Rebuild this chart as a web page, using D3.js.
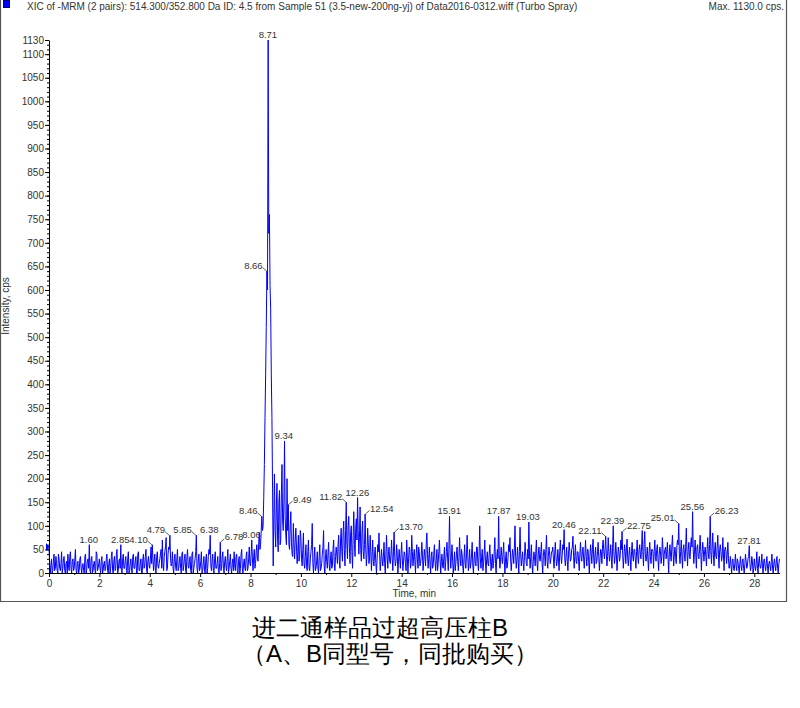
<!DOCTYPE html>
<html>
<head>
<meta charset="utf-8">
<script src="https://cdn.jsdelivr.net/npm/d3@7"></script>
<style>
  body { margin: 0; background: #fff; }
  svg text { font-family: "Liberation Sans Narrow", "Arial Narrow", "Liberation Sans", Arial, sans-serif; }
</style>
</head>
<body>
<div id="chart"></div>
<script>
// XIC chromatogram, one sample every 0.025 min (one row per minute)
var sampleStep = 0.025

var intensity0to5 = [
  55, 20, 0, 15, 30, 0, 5, 25, 40, 5, 10, 35, 20, 5, 0, 40, 30, 10, 5, 20, 45, 0, 10, 30, 35, 5, 0, 20, 25, 0, 40, 15, 5, 35, 45, 10, 0, 25, 30, 5,
  10, 30, 50, 5, 0, 20, 25, 0, 5, 30, 35, 10, 0, 15, 20, 5, 0, 35, 40, 0, 10, 25, 30, 10, 60, 5, 0, 30, 35, 0, 5, 20, 25, 5, 0, 45, 40, 5, 10, 20,
  30, 10, 0, 25, 35, 0, 5, 20, 25, 5, 10, 30, 40, 5, 0, 20, 30, 0, 10, 35, 45, 5, 0, 25, 35, 5, 10, 40, 50, 0, 5, 25, 30, 10, 60, 5, 0, 30, 40, 10,
  10, 25, 35, 5, 0, 30, 45, 0, 5, 20, 30, 5, 0, 35, 40, 10, 10, 25, 35, 0, 0, 40, 45, 5, 5, 20, 30, 0, 0, 30, 40, 10, 15, 35, 50, 5, 0, 25, 35, 15,
  10, 30, 55, 20, 60, 30, 5, 25, 40, 5, 0, 35, 45, 15, 10, 20, 30, 40, 50, 10, 70, 20, 5, 35, 45, 55, 75, 5, 10, 40, 55, 50, 80, 30, 15, 20, 45, 10, 0, 30
]
var intensity5to10 = [
  40, 15, 5, 30, 50, 5, 10, 25, 35, 10, 0, 40, 45, 5, 15, 30, 40, 5, 0, 35, 50, 15, 10, 25, 35, 5, 0, 40, 45, 0, 10, 20, 30, 45, 80, 10, 0, 25, 40, 5,
  10, 25, 45, 0, 5, 20, 35, 5, 0, 30, 40, 0, 10, 35, 50, 40, 80, 15, 5, 25, 40, 5, 0, 30, 45, 10, 10, 20, 35, 5, 0, 20, 65, 5, 10, 35, 45, 10, 0, 25,
  35, 15, 5, 30, 50, 0, 10, 25, 40, 10, 0, 20, 30, 5, 45, 15, 5, 35, 40, 5, 0, 25, 35, 0, 10, 40, 50, 10, 0, 20, 30, 10, 5, 35, 45, 5, 10, 30, 55, 20,
  15, 40, 70, 30, 5, 35, 50, 10, 20, 45, 60, 30, 25, 65, 85, 50, 60, 90, 120, 90, 100, 160, 230, 330, 420, 520, 640, 600, 1130, 720, 760, 610, 560, 420, 330, 180, 15, 120, 210, 90,
  55, 140, 190, 70, 45, 150, 175, 60, 70, 170, 230, 110, 90, 150, 280, 120, 80, 60, 200, 90, 145, 60, 50, 100, 130, 65, 40, 35, 105, 60, 30, 70, 95, 55, 20, 40, 80, 25, 35, 90
]
var intensity10to15 = [
  75, 30, 15, 50, 85, 20, 10, 35, 60, 15, 5, 45, 70, 10, 5, 30, 45, 60, 105, 20, 0, 30, 55, 5, 10, 25, 45, 10, 0, 35, 60, 5, 10, 20, 40, 55, 90, 15, 0, 30,
  50, 25, 10, 40, 65, 15, 5, 30, 45, 10, 15, 50, 70, 20, 5, 35, 55, 40, 20, 60, 80, 25, 10, 70, 95, 45, 25, 85, 110, 50, 15, 90, 150, 60, 30, 100, 120, 55, 20, 85,
  100, 45, 10, 80, 130, 60, 35, 95, 115, 70, 160, 90, 40, 75, 140, 50, 25, 85, 110, 45, 30, 60, 125, 50, 15, 40, 95, 65, 20, 30, 80, 45, 5, 35, 70, 25, 15, 40, 55, 20,
  0, 30, 60, 45, 85, 40, 5, 25, 50, 30, 15, 35, 65, 20, 0, 40, 80, 35, 10, 45, 55, 25, 20, 40, 70, 30, 5, 45, 87, 35, 15, 25, 60, 40, 0, 25, 50, 30, 10, 40,
  65, 30, 5, 25, 45, 40, 20, 5, 70, 35, 0, 30, 55, 50, 10, 20, 80, 45, 15, 35, 50, 25, 0, 40, 60, 30, 10, 55, 45, 15, 20, 35, 65, 40, 5, 25, 50, 35, 15, 60
]
var intensity15to20 = [
  85, 40, 10, 30, 55, 20, 0, 35, 45, 10, 15, 40, 60, 25, 5, 30, 50, 5, 20, 45, 70, 30, 0, 25, 40, 15, 10, 35, 55, 5, 25, 45, 65, 30, 5, 50, 120, 40, 10, 35,
  60, 25, 0, 20, 45, 5, 20, 40, 55, 25, 5, 35, 75, 30, 15, 50, 40, 15, 0, 30, 60, 20, 10, 40, 80, 35, 5, 25, 50, 10, 20, 40, 65, 15, 0, 30, 45, 20, 15, 55,
  55, 20, 5, 45, 100, 30, 10, 35, 50, 5, 20, 40, 70, 25, 0, 30, 45, 20, 15, 40, 60, 30, 5, 25, 40, 10, 20, 45, 75, 20, 0, 35, 50, 30, 120, 40, 10, 25, 55, 35,
  20, 40, 65, 25, 0, 30, 45, 10, 15, 35, 60, 45, 75, 30, 5, 25, 50, 40, 20, 55, 100, 35, 10, 30, 55, 25, 0, 45, 97, 40, 15, 30, 45, 20, 5, 35, 65, 40, 20, 15,
  50, 30, 108, 40, 10, 35, 60, 20, 0, 25, 45, 35, 15, 45, 70, 20, 5, 40, 55, 30, 25, 45, 65, 20, 0, 35, 50, 40, 15, 50, 80, 25, 10, 35, 55, 40, 20, 30, 45, 45
]
var intensity20to25 = [
  55, 30, 10, 40, 65, 35, 15, 25, 50, 30, 5, 45, 70, 35, 20, 40, 60, 50, 92, 30, 15, 35, 55, 25, 5, 40, 65, 45, 25, 30, 50, 55, 78, 35, 10, 40, 60, 25, 20, 45,
  45, 25, 5, 40, 65, 35, 25, 45, 55, 30, 10, 40, 70, 35, 15, 50, 50, 25, 0, 35, 60, 40, 20, 55, 72, 30, 10, 40, 55, 20, 25, 45, 65, 35, 5, 30, 50, 45, 20, 60,
  70, 45, 30, 50, 78, 40, 15, 35, 75, 45, 25, 40, 60, 30, 10, 55, 100, 45, 20, 35, 65, 40, 5, 30, 55, 45, 25, 35, 70, 50, 88, 40, 10, 35, 60, 45, 20, 55, 72, 30,
  15, 40, 55, 30, 5, 45, 65, 35, 25, 50, 50, 30, 10, 45, 70, 35, 20, 50, 60, 40, 30, 55, 90, 45, 15, 60, 88, 40, 25, 35, 55, 30, 5, 45, 65, 35, 20, 50, 50, 45,
  10, 45, 70, 35, 25, 50, 60, 30, 5, 40, 55, 45, 20, 35, 75, 50, 15, 40, 50, 55, 30, 45, 65, 30, 0, 40, 60, 35, 25, 55, 80, 45, 15, 40, 55, 35, 20, 55, 70, 60
]
var intensity25to29 = [
  105, 40, 20, 45, 70, 35, 10, 50, 60, 40, 25, 55, 95, 45, 15, 50, 65, 35, 30, 60, 75, 55, 130, 50, 20, 45, 70, 40, 10, 55, 60, 35, 30, 50, 80, 45, 5, 40, 65, 50,
  25, 45, 55, 35, 15, 50, 75, 40, 30, 60, 120, 45, 20, 55, 85, 40, 15, 50, 65, 35, 30, 55, 80, 40, 10, 50, 60, 45, 25, 35, 75, 40, 5, 50, 55, 45, 20, 40, 65, 30,
  10, 20, 35, 15, 0, 25, 30, 10, 5, 20, 40, 15, 5, 30, 25, 10, 0, 20, 35, 15, 5, 25, 30, 10, 0, 20, 40, 25, 10, 15, 30, 35, 58, 20, 5, 15, 35, 25, 0, 10,
  30, 15, 5, 20, 45, 10, 0, 25, 35, 15, 10, 20, 40, 10, 0, 25, 30, 15, 5, 20, 35, 10, 0, 20, 25, 15, 5, 25, 40, 10, 0, 20, 30, 15, 5, 25, 35, 10, 0, 20,
  30
]

// labelled peaks (retention times)
var peakTimes = [1.60, 2.85, 4.10, 4.79, 5.85, 6.38, 6.78, 8.06, 8.46, 8.66, 8.71, 9.34, 9.49,
  11.82, 12.26, 12.54, 13.70, 15.91, 17.87, 19.03, 20.46, 22.11, 22.39, 22.75, 25.01, 25.56, 26.23, 27.81]

var xTicks = [0, 2, 4, 6, 8, 10, 12, 14, 16, 18, 20, 22, 24, 26, 28]
var yTicks = [0, 50, 100, 150, 200, 250, 300, 350, 400, 450, 500, 550, 600, 650, 700,
  750, 800, 850, 900, 950, 1000, 1050, 1100, 1130]

var headerText = 'XIC of -MRM (2 pairs): 514.300/352.800 Da ID: 4.5 from Sample 51 (3.5-new-200ng-yj) of Data2016-0312.wiff (Turbo Spray)'
var maxText = 'Max. 1130.0 cps.'
var captionLines = ['进二通样品过超高压柱B', '（A、B同型号，同批购买）']

var intensity = [].concat(intensity0to5, intensity5to10, intensity10to15,
  intensity15to20, intensity20to25, intensity25to29)
var times = intensity.map((d, i) => i * sampleStep)

// where each peak label sits: c = above, l = left with leader, r = right with leader
var peakSide = ['c', 'c', 'l', 'l', 'l', 'c', 'r', 'c', 'l', 'l', 'c', 'c', 'r',
  'l', 'c', 'r', 'r', 'c', 'c', 'c', 'c', 'l', 'c', 'r', 'l', 'c', 'r', 'c']

var width = 800
var height = 708
var plot = { left: 49, right: 779.5, top: 40, bottom: 573 }
var textColor = '#333'

var svg = d3.select('#chart')
  .append('svg')
  .attr('width', width)
  .attr('height', height)

svg.append('rect').attr('width', width).attr('height', height).attr('fill', '#fff')

// frame round the plot panel
svg.append('path')
  .attr('d', 'M0.5,0 V601.5 H786.5 V0')
  .attr('fill', 'none')
  .attr('stroke', '#555')
  .attr('stroke-width', 1.2)

// header
svg.append('rect')
  .attr('x', 3.5).attr('y', 0.5)
  .attr('width', 6).attr('height', 7)
  .attr('fill', '#0000ff')
  .attr('stroke', '#000080')

svg.append('text')
  .attr('x', 27).attr('y', 10)
  .attr('font-size', 10)
  .attr('fill', textColor)
  .text(headerText)

svg.append('text')
  .attr('x', 784).attr('y', 10)
  .attr('text-anchor', 'end')
  .attr('font-size', 10)
  .attr('fill', textColor)
  .text(maxText)

var x = d3.scaleLinear().domain([0, 29]).range([plot.left, plot.right])
var y = d3.scaleLinear().domain([0, 1130]).range([plot.bottom, plot.top])

// trace
var line = d3.line()
  .x((d, i) => x(times[i]))
  .y((d) => y(d))

svg.append('path')
  .datum(intensity)
  .attr('fill', 'none')
  .attr('stroke', '#0000ff')
  .attr('stroke-width', 1)
  .attr('d', line)

// axes
var yMinor = svg.append('g')
  .attr('transform', `translate(${plot.left}, 0)`)
  .call(d3.axisLeft(y).tickValues(d3.range(0, 1131, 10)).tickSize(2).tickSizeOuter(0).tickFormat(''))
yMinor.select('.domain').remove()

var yAxis = svg.append('g')
  .attr('id', 'y-axis')
  .attr('transform', `translate(${plot.left}, 0)`)
  .call(d3.axisLeft(y).tickValues(yTicks).tickSize(4).tickSizeOuter(0).tickPadding(1).tickFormat(d3.format('d')))

var xMinor = svg.append('g')
  .attr('transform', `translate(0, ${plot.bottom})`)
  .call(d3.axisBottom(x).tickValues(d3.range(1, 29, 2)).tickSize(2).tickSizeOuter(0).tickFormat(''))
xMinor.select('.domain').remove()

var xAxis = svg.append('g')
  .attr('id', 'x-axis')
  .attr('transform', `translate(0, ${plot.bottom})`)
  .call(d3.axisBottom(x).tickValues(xTicks).tickSize(4).tickSizeOuter(0).tickPadding(3))

svg.selectAll('.tick text')
  .attr('font-family', null)
  .attr('font-size', 10)
  .attr('fill', textColor)

svg.append('text')
  .attr('transform', 'translate(9, 306) rotate(-90)')
  .attr('text-anchor', 'middle')
  .attr('font-size', 10)
  .attr('fill', textColor)
  .text('Intensity, cps')

svg.append('text')
  .attr('x', (plot.left + plot.right) / 2)
  .attr('y', 597)
  .attr('text-anchor', 'middle')
  .attr('font-size', 10)
  .attr('fill', textColor)
  .text('Time, min')

// start marker on the y axis
svg.append('path')
  .attr('d', `M${plot.left - 3},${y(intensity[0]) - 4} L${plot.left + 0.5},${y(intensity[0])} L${plot.left - 3},${y(intensity[0]) + 4} Z`)
  .attr('fill', '#0000ff')

// peak labels: height is the highest sample next to the labelled time
var labels = svg.append('g').attr('font-size', 9.5).attr('fill', textColor)
peakTimes.forEach((t, k) => {
  var i0 = Math.round(t / sampleStep)
  var near = [i0 - 1, i0, i0 + 1].filter((i) => i >= 0 && i < intensity.length && Math.abs(times[i] - t) <= 0.026)
  var v = d3.max(near, (i) => intensity[i])
  var px = x(t)
  var py = y(v)
  var side = peakSide[k]
  if (side === 'c') {
    labels.append('text').attr('x', px - 0.5).attr('y', py - 2)
      .attr('text-anchor', 'middle').text(t.toFixed(2))
  } else if (side === 'l') {
    labels.append('line')
      .attr('x1', px - 4.5).attr('y1', py - 3.5).attr('x2', px - 0.5).attr('y2', py)
      .attr('stroke', textColor).attr('stroke-width', 0.8)
    labels.append('text').attr('x', px - 4.5).attr('y', py - 2)
      .attr('text-anchor', 'end').text(t.toFixed(2))
  } else {
    labels.append('line')
      .attr('x1', px + 0.5).attr('y1', py).attr('x2', px + 4.5).attr('y2', py - 3.5)
      .attr('stroke', textColor).attr('stroke-width', 0.8)
    labels.append('text').attr('x', px + 5).attr('y', py - 2)
      .attr('text-anchor', 'start').text(t.toFixed(2))
  }
})

// caption under the panel
svg.append('text')
  .attr('x', 252).attr('y', 636)
  .attr('font-family', '"Noto Sans CJK SC", sans-serif')
  .attr('font-size', 24)
  .attr('fill', '#000')
  .text(captionLines[0])

svg.append('text')
  .attr('x', 242).attr('y', 662)
  .attr('font-family', '"Noto Sans CJK SC", sans-serif')
  .attr('font-size', 24)
  .attr('fill', '#000')
  .text(captionLines[1])
</script>
</body>
</html>
